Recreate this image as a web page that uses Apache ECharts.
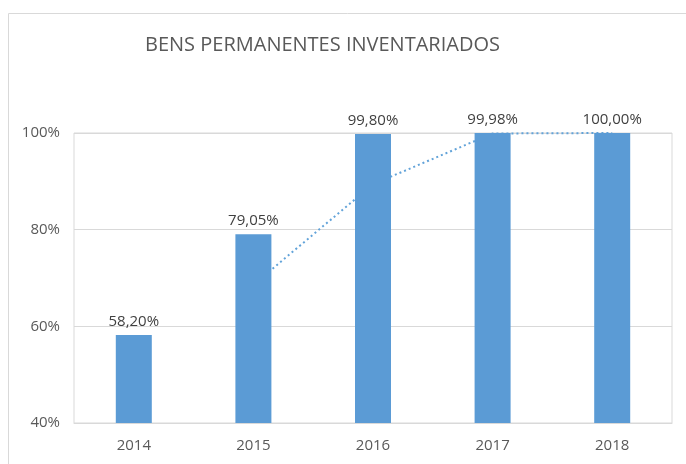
<!DOCTYPE html>
<html>
<head>
<meta charset="utf-8">
<script src="https://cdn.jsdelivr.net/npm/echarts@6/dist/echarts.min.js"></script>
<style>
    body { margin: 0; background: #fff; }
    #chart { width: 686px; height: 464px; }
</style>
</head>
<body>
<div id="chart"></div>
<script>
// dados
const anos = ['2014', '2015', '2016', '2017', '2018'];
const percentuais = [58.20, 79.05, 99.80, 99.98, 100.00];
// linha pontilhada (tendência média móvel), valores estimados
const tendencia = [null, 68.6, 89.4, 99.9, 100.0];
const ticksY = [40, 60, 80, 100];

window.onload = function () {
    let chart = echarts.init(document.getElementById('chart'));
    let fonte = 'Open Sans';
    let option = {
        animation: false,
        textStyle: { fontFamily: fonte },
        title: {
            text: 'BENS PERMANENTES INVENTARIADOS',
            left: 140,
            top: 30,
            textStyle: { fontFamily: fonte, fontSize: 20, fontWeight: 'normal', color: '#595959' }
        },
        graphic: [{
            type: 'rect',
            shape: { x: 8.5, y: 13.5, width: 700, height: 500 },
            style: { fill: 'none', stroke: '#d9d9d9', lineWidth: 1 },
            silent: true
        }],
        grid: {
            left: 74, right: 14, top: 133, bottom: 41,
            show: true, borderColor: '#d9d9d9', borderWidth: 1
        },
        xAxis: {
            type: 'category',
            data: anos,
            axisLine: { lineStyle: { color: '#d9d9d9' } },
            axisTick: { show: false },
            axisLabel: { color: '#595959', fontSize: 15, margin: 15 }
        },
        yAxis: {
            type: 'value',
            min: ticksY[0],
            max: ticksY[ticksY.length - 1],
            interval: 20,
            axisLine: { show: false },
            axisTick: { show: false },
            splitLine: { lineStyle: { color: '#d9d9d9' } },
            axisLabel: { color: '#595959', fontSize: 15, margin: 14, formatter: '{value}%' }
        },
        series: [
            {
                type: 'line',
                data: tendencia,
                z: 1,
                symbol: 'none',
                lineStyle: { color: '#62a3d9', width: 2, type: [2, 3] }
            },
            {
                type: 'bar',
                data: percentuais,
                z: 2,
                barWidth: 36,
                itemStyle: { color: '#5b9bd5' },
                label: {
                    show: true,
                    position: 'top',
                    distance: 6,
                    color: '#404040',
                    fontSize: 15,
                    fontFamily: fonte,
                    formatter: (p) => p.value.toFixed(2).replace('.', ',') + '%'
                }
            }
        ]
    };
    chart.setOption(option);
}
</script>
</body>
</html>
